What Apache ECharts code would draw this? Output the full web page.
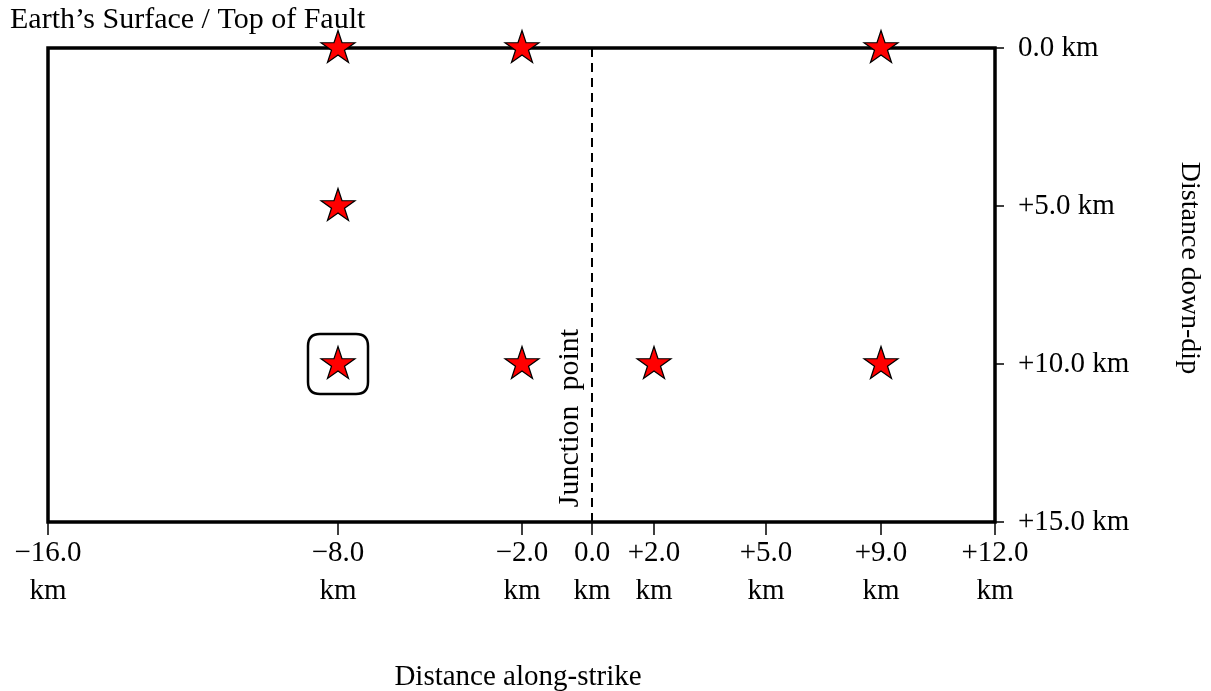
<!DOCTYPE html>
<html><head><meta charset="utf-8">
<script src="https://cdn.jsdelivr.net/npm/echarts@6/dist/echarts.min.js"></script>
<style>html,body{margin:0;padding:0;background:#fff}#c{width:1211px;height:691px}</style>
</head><body><div id="c"></div>
<script>
// ---- data ----
const xTicks = [-16, -8, -2, 0, 2, 5, 9, 12];
const yTicks = [0, 5, 10, 15];
const starX = [-8, -2, 9, -8, -8, -2, 2, 9];
const starY = [0, 0, 0, 5, 10, 10, 10, 10];
const boxX = [-8];
const boxY = [10];
const junctionX = 0;
const titleText = 'Earth\u2019s Surface / Top of Fault';
const xName = 'Distance along-strike';
const yName = 'Distance down-dip';
const junctionLabel = 'Junction  point';

// ---- layout / style ----
const FONT = "'Liberation Serif','Times New Roman',serif";
const FS = 29;
const frame = {left: 48, top: 48, width: 947, height: 474};
const segWidths = [290, 184, 70, 62, 112, 115, 114];
const STAR = 'path://M50 0 L61.23 34.55 L97.55 34.55 L68.17 55.9 L79.39 90.45 L50 69.1 L20.61 90.45 L31.83 55.9 L2.45 34.55 L38.77 34.55 Z';
const RBOX = 'path://M20 0 H80 Q100 0 100 20 V80 Q100 100 80 100 H20 Q0 100 0 80 V20 Q0 0 20 0 Z';

const fmtX = v => (v > 0 ? '+' : v < 0 ? '\u2212' : '') + Math.abs(v).toFixed(1) + '\nkm';
const fmtY = v => (v > 0 ? '+' : '') + v.toFixed(1) + ' km';

const yMin = yTicks[0], yMax = yTicks[yTicks.length - 1];
const hiddenAxis = {axisLine: {show: false, onZero: false}, axisTick: {show: false}, axisLabel: {show: false}, splitLine: {show: false}};

const grids = [{left: frame.left, top: frame.top, width: frame.width, height: frame.height,
  show: true, borderColor: '#000', borderWidth: 3.5, backgroundColor: 'transparent'}];
const xAxes = [Object.assign({gridIndex: 0, type: 'value', min: xTicks[0], max: xTicks[xTicks.length - 1], show: false}, hiddenAxis)];
const yAxes = [{gridIndex: 0, type: 'value', position: 'right', inverse: true, min: yMin, max: yMax,
  interval: yTicks[1] - yTicks[0],
  axisLine: {show: false, onZero: false}, splitLine: {show: false},
  axisTick: {show: true, length: 9, lineStyle: {color: '#000', width: 1.5}},
  axisLabel: {margin: 23, formatter: fmtY, color: '#000', fontFamily: FONT, fontSize: FS}}];
const series = [];

let acc = frame.left;
const nSeg = xTicks.length - 1;
for (let k = 0; k < nSeg; k++) {
  const lo = xTicks[k], hi = xTicks[k + 1], last = (k === nSeg - 1);
  grids.push({left: acc, top: frame.top, width: segWidths[k], height: frame.height});
  acc += segWidths[k];
  xAxes.push({gridIndex: k + 1, type: 'value', position: 'bottom', min: lo, max: hi, interval: hi - lo,
    axisLine: {show: false, onZero: false}, splitLine: {show: false},
    axisTick: {show: true, length: 13, lineStyle: {color: '#000', width: 1.5}},
    axisLabel: {showMinLabel: true, showMaxLabel: last, margin: 12, lineHeight: 38,
      formatter: fmtX, color: '#000', fontFamily: FONT, fontSize: FS}});
  yAxes.push(Object.assign({gridIndex: k + 1, type: 'value', show: false, inverse: true, min: yMin, max: yMax}, hiddenAxis));
  const inSeg = x => x >= lo && (x < hi || (last && x <= hi));
  const stars = [];
  starX.forEach((x, i) => { if (inSeg(x)) stars.push([x, starY[i]]); });
  const boxes = [];
  boxX.forEach((x, i) => { if (inSeg(x)) boxes.push([x, boxY[i]]); });
  if (boxes.length) series.push({type: 'scatter', xAxisIndex: k + 1, yAxisIndex: k + 1, clip: false,
    data: boxes, symbol: RBOX, symbolSize: 60, silent: true, z: 3,
    itemStyle: {color: 'rgba(0,0,0,0)', borderColor: '#000', borderWidth: 2.5, opacity: 1}});
  if (stars.length) series.push({type: 'scatter', xAxisIndex: k + 1, yAxisIndex: k + 1, clip: false,
    data: stars, symbol: STAR, symbolSize: [34, 32], symbolOffset: [0, -1.5], silent: true, z: 4,
    itemStyle: {color: '#ff0000', borderColor: '#000', borderWidth: 1.2, opacity: 1}});
  if (lo === junctionX) series.push({type: 'line', xAxisIndex: k + 1, yAxisIndex: k + 1, clip: false,
    data: [[junctionX, yMin], [junctionX, yMax]], symbol: 'none', silent: true, z: 2,
    lineStyle: {color: '#000', width: 2, type: [9, 6], opacity: 1}});
}

const chart = echarts.init(document.getElementById('c'), null, {renderer: 'canvas'});
chart.setOption({
  animation: false,
  backgroundColor: '#fff',
  grid: grids, xAxis: xAxes, yAxis: yAxes, series: series
});

const segIdx = xTicks.indexOf(junctionX);
const jx = chart.convertToPixel({xAxisIndex: segIdx + 1}, junctionX);
const txt = (text, x, y, rot, align, fs) => ({type: 'text', x: x, y: y, rotation: rot || 0, silent: true,
  style: {text: text, fill: '#000', font: (fs || FS) + 'px ' + FONT, align: align || 'center', verticalAlign: 'middle'}});
chart.setOption({graphic: [
  txt(titleText, 10, 20, 0, 'left', 30),
  txt(xName, 518, 677, 0),
  txt(yName, 1189, 268, -Math.PI / 2, 'center', 28),
  txt(junctionLabel, jx - 22, 418, Math.PI / 2, 'center', 30)
]});
</script></body></html>
